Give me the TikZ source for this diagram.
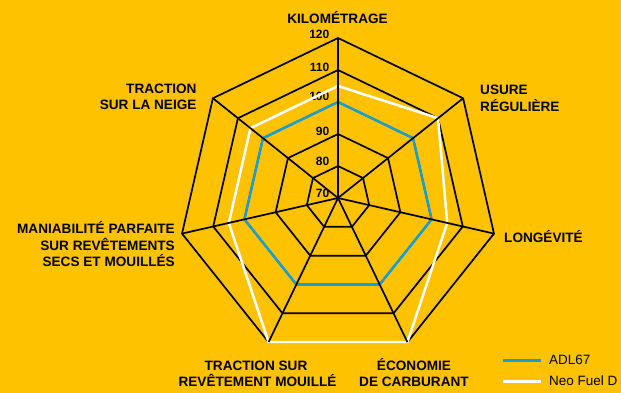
\documentclass[tikz,border=0pt]{standalone}
\usepackage{fontspec}
\setmainfont{Liberation Sans}
\usetikzlibrary{calc}
\definecolor{bg}{RGB}{255,194,0}
\definecolor{adl}{RGB}{22,158,214}
\begin{document}
\begin{tikzpicture}[x=1pt,y=1pt,
  ring/.style={black,line width=1.7pt,line join=miter},
  spoke/.style={black,line width=1.7pt},
  adlline/.style={adl,line width=2.5pt,line join=miter},
  neoline/.style={white,line width=2.5pt,line join=miter},
  scalelbl/.style={anchor=east,inner sep=0pt,font=\bfseries\fontsize{12}{12}\selectfont},
  catl/.style={inner sep=0pt,font=\bfseries\fontsize{13.6}{16}\selectfont},
  legl/.style={inner sep=0pt,anchor=base west,font=\fontsize{13.5}{16}\selectfont}]
\fill[bg] (0,0) rectangle (621,-393);
\useasboundingbox (0,0) rectangle (621,-393);
\coordinate (c) at (338,-198);
% rings
\foreach \v in {80,90,100,110,120}{
  \pgfmathsetmacro{\r}{(\v-70)*3.2}
  \draw[ring] ($(c)+(90:\r)$) \foreach \k in {1,...,6}{ -- ($(c)+(90-\k*360/7:\r)$) } -- cycle;
}
% scale labels
\node[scalelbl] (s120) at (329.5,-34) {120};
\node[scalelbl] (s110) at (329.5,-67.5) {110};
\node[scalelbl] (s100) at (329.5,-96.5) {100};
\node[scalelbl] (s90) at (329.5,-131.5) {90};
\node[scalelbl] (s80) at (329.5,-161) {80};
\node[scalelbl] (s70) at (329.5,-193) {70};
% data
\draw[neoline] \foreach \val [count=\k from 0] in {105,110,105,120,120,105,105}{
  \ifnum\k=0 ($(c)+(90:{(\val-70)*3.2})$) \else -- ($(c)+(90-\k*360/7:{(\val-70)*3.2})$) \fi } -- cycle;
\draw[adlline] \foreach \val [count=\k from 0] in {100,100,100,100,100,100,100}{
  \ifnum\k=0 ($(c)+(90:{(\val-70)*3.2})$) \else -- ($(c)+(90-\k*360/7:{(\val-70)*3.2})$) \fi } -- cycle;
% spokes
\foreach \k in {0,...,6}{
  \coordinate (v\k) at ($(c)+(90-\k*360/7:160)$);
  \draw[spoke] (c) -- (v\k);
}
% category labels
\node[catl,anchor=base] (kilo) at (337.5,-23.3) {KILOMÉTRAGE};
\node[catl,anchor=base west] (usure1) at (480,-95) {USURE};
\node[catl,anchor=base west] (usure2) at (480,-111.7) {RÉGULIÈRE};
\node[catl,anchor=base west] (longev) at (504,-242) {LONGÉVITÉ};
\node[catl,anchor=base] (eco1) at (414,-370) {ÉCONOMIE};
\node[catl,anchor=base] (eco2) at (414,-386.7) {DE CARBURANT};
\node[catl,anchor=base] (wet1) at (256,-370) {TRACTION SUR};
\node[catl,anchor=base] (wet2) at (257.5,-386.7) {REVÊTEMENT MOUILLÉ};
\node[catl,anchor=base east] (man1) at (175,-233.3) {MANIABILITÉ PARFAITE};
\node[catl,anchor=base east] (man2) at (175,-250) {SUR REVÊTEMENTS};
\node[catl,anchor=base east] (man3) at (175,-266) {SECS ET MOUILLÉS};
\node[catl,anchor=base east] (snow1) at (196.7,-94) {TRACTION};
\node[catl,anchor=base east] (snow2) at (196.7,-110) {SUR LA NEIGE};
% legend
\coordinate (la1) at (503,-360.7);
\coordinate (la2) at (541,-360.7);
\coordinate (lb1) at (503,-381.7);
\coordinate (lb2) at (541,-381.7);
\draw[adlline] (la1) -- (la2);
\draw[neoline] (lb1) -- (lb2);
\node[legl] (leg1) at (549,-364.3) {ADL67};
\node[legl] (leg2) at (549,-385.7) {Neo Fuel D};
\end{tikzpicture}
\end{document}
